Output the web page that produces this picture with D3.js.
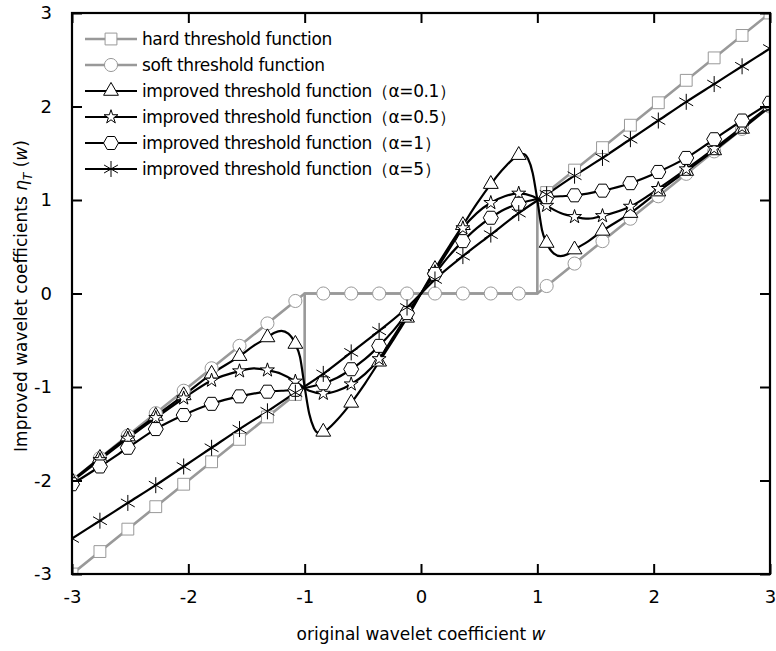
<!DOCTYPE html>
<html>
<head>
<meta charset="utf-8">
<script src="https://cdn.jsdelivr.net/npm/d3@7"></script>
<style>
  html, body { margin: 0; padding: 0; background: #fff; }
  svg { display: block; }
  text { font-family: "DejaVu Sans", sans-serif; fill: #000; }
  .leg text { font-size: 17px; letter-spacing: -0.4px; }
</style>
</head>
<body>
<svg id="chart" width="776" height="651"></svg>
<script>
// ---- data ----
var xTicks = [-3, -2, -1, 0, 1, 2, 3];
var yTicks = [-3, -2, -1, 0, 1, 2, 3];
// w positions that carry a marker
var markW = [-3, -2.76, -2.52, -2.28, -2.04, -1.8, -1.56, -1.32, -1.08, -0.84, -0.6, -0.36, -0.12,
             0.12, 0.36, 0.6, 0.84, 1.08, 1.32, 1.56, 1.8, 2.04, 2.28, 2.52, 2.76, 3];

var hardLine = [[-3, -3], [-1, -1], [-1, 0], [1, 0], [1, 1], [3, 3]];
var hardMarks = [-3, -2.76, -2.52, -2.28, -2.04, -1.8, -1.56, -1.32, -1.08, null, null, null, null,
                 null, null, null, null, 1.08, 1.32, 1.56, 1.8, 2.04, 2.28, 2.52, 2.76, 3];
var softLine = [[-3, -2], [-1, 0], [1, 0], [3, 2]];
var softMarks = [-2, -1.76, -1.52, -1.28, -1.04, -0.8, -0.56, -0.32, -0.08, 0, 0, 0, 0,
                 0, 0, 0, 0, 0.08, 0.32, 0.56, 0.8, 1.04, 1.28, 1.52, 1.76, 2];

var a01 = [[-3, -2.0], [-2.76, -1.76], [-2.52, -1.53], [-2.28, -1.31], [-2.04, -1.09], [-1.8, -0.86],
  [-1.56, -0.67], [-1.44, -0.56], [-1.32, -0.47], [-1.26, -0.42], [-1.2, -0.4], [-1.14, -0.43],
  [-1.08, -0.54], [-1.04, -0.68], [-1.0, -1.0], [-0.96, -1.29], [-0.92, -1.44], [-0.88, -1.49],
  [-0.84, -1.48], [-0.72, -1.35], [-0.6, -1.17], [-0.48, -0.96], [-0.36, -0.73], [-0.24, -0.5],
  [-0.12, -0.26], [0, 0], [0.12, 0.26], [0.24, 0.5], [0.36, 0.73], [0.48, 0.96], [0.6, 1.17],
  [0.72, 1.35], [0.84, 1.48], [0.88, 1.49], [0.92, 1.44], [0.96, 1.29], [1.0, 1.0], [1.04, 0.68],
  [1.08, 0.54], [1.14, 0.43], [1.2, 0.4], [1.26, 0.42], [1.32, 0.47], [1.44, 0.56], [1.56, 0.67],
  [1.8, 0.86], [2.04, 1.09], [2.28, 1.31], [2.52, 1.53], [2.76, 1.76], [3, 2.0]];
var a05 = [[-3, -2.01], [-2.76, -1.78], [-2.52, -1.55], [-2.28, -1.33], [-2.04, -1.12], [-1.8, -0.93],
  [-1.56, -0.83], [-1.44, -0.8], [-1.32, -0.82], [-1.2, -0.86], [-1.08, -0.94], [-0.96, -1.04],
  [-0.84, -1.07], [-0.72, -1.04], [-0.6, -0.97], [-0.48, -0.86], [-0.36, -0.7], [-0.24, -0.47],
  [-0.12, -0.23], [0, 0], [0.12, 0.23], [0.24, 0.47], [0.36, 0.7], [0.48, 0.86], [0.6, 0.97],
  [0.72, 1.04], [0.84, 1.07], [0.96, 1.04], [1.08, 0.94], [1.2, 0.86], [1.32, 0.82], [1.44, 0.8],
  [1.56, 0.83], [1.8, 0.93], [2.04, 1.12], [2.28, 1.33], [2.52, 1.55], [2.76, 1.78], [3, 2.01]];
var a1 = [[-3, -2.04], [-2.76, -1.85], [-2.52, -1.65], [-2.28, -1.45], [-2.04, -1.3], [-1.8, -1.18],
  [-1.56, -1.1], [-1.32, -1.05], [-1.2, -1.04], [-1.08, -1.03], [-0.96, -1.0], [-0.84, -0.96],
  [-0.72, -0.9], [-0.6, -0.81], [-0.48, -0.7], [-0.36, -0.56], [-0.24, -0.4], [-0.12, -0.21],
  [0, 0], [0.12, 0.21], [0.24, 0.4], [0.36, 0.56], [0.48, 0.7], [0.6, 0.81], [0.72, 0.9],
  [0.84, 0.96], [0.96, 1.0], [1.08, 1.03], [1.2, 1.04], [1.32, 1.05], [1.56, 1.1], [1.8, 1.18],
  [2.04, 1.3], [2.28, 1.45], [2.52, 1.65], [2.76, 1.85], [3, 2.04]];
var a5 = [[-3, -2.62], [-2.76, -2.43], [-2.52, -2.24], [-2.28, -2.05], [-2.04, -1.85], [-1.8, -1.65],
  [-1.56, -1.45], [-1.32, -1.26], [-1.08, -1.06], [-0.84, -0.86], [-0.6, -0.63], [-0.36, -0.4],
  [-0.12, -0.15], [0, 0], [0.12, 0.15], [0.36, 0.4], [0.6, 0.63], [0.84, 0.86], [1.08, 1.06],
  [1.32, 1.26], [1.56, 1.45], [1.8, 1.65], [2.04, 1.85], [2.28, 2.05], [2.52, 2.24], [2.76, 2.43],
  [3, 2.62]];

var labels = ["hard threshold function", "soft threshold function",
  "improved threshold function（α=0.1）", "improved threshold function（α=0.5）",
  "improved threshold function（α=1）", "improved threshold function（α=5）"];

// ---- layout ----
var svg = d3.select("#chart");
var L = 72, R = 770, T = 13, B = 574;
var x = d3.scaleLinear().domain([-3, 3]).range([L, R]);
var y = d3.scaleLinear().domain([-3, 3]).range([B, T]);
var GRAY = "#999";

svg.append("defs").append("clipPath").attr("id", "plot")
  .append("rect").attr("x", L).attr("y", T).attr("width", R - L).attr("height", B - T);

// marker shapes
function hexPath(r) {
  var p = [];
  for (var i = 0; i < 6; i++) { var a = Math.PI / 3 * i; p.push([r * Math.cos(a), r * Math.sin(a)]); }
  return "M" + p.map(function (q) { return q[0].toFixed(2) + "," + q[1].toFixed(2); }).join("L") + "Z";
}
var shapes = {
  square: d3.symbol(d3.symbolSquare, 140)(),
  circle: d3.symbol(d3.symbolCircle, 135)(),
  triangle: d3.symbol(d3.symbolTriangle, 95)(),
  star: d3.symbol(d3.symbolStar, 60)(),
  hex: hexPath(7.5),
  aster: d3.symbol(d3.symbolAsterisk, 180)()
};

function isMark(w) { return markW.some(function (m) { return Math.abs(m - w) < 1e-6; }); }
function pairs(vals) { return markW.map(function (w, i) { return [w, vals[i]]; }).filter(function (p) { return p[1] !== null; }); }

var series = [
  { line: hardLine, marks: pairs(hardMarks), color: GRAY, width: 2.6, shape: "square", curve: d3.curveLinear },
  { line: softLine, marks: pairs(softMarks), color: GRAY, width: 2.6, shape: "circle", curve: d3.curveLinear },
  { line: a01, marks: a01.filter(function (p) { return isMark(p[0]); }), color: "#000", width: 2.2, shape: "triangle", curve: d3.curveMonotoneX },
  { line: a05, marks: a05.filter(function (p) { return isMark(p[0]); }), color: "#000", width: 2.2, shape: "star", curve: d3.curveMonotoneX },
  { line: a1, marks: a1.filter(function (p) { return isMark(p[0]); }), color: "#000", width: 2.2, shape: "hex", curve: d3.curveMonotoneX },
  { line: a5, marks: a5.filter(function (p) { return isMark(p[0]); }), color: "#000", width: 2.2, shape: "aster", curve: d3.curveMonotoneX }
];

var plot = svg.append("g").attr("clip-path", "url(#plot)");
series.forEach(function (s) {
  var line = d3.line().x(function (d) { return x(d[0]); }).y(function (d) { return y(d[1]); }).curve(s.curve);
  plot.append("path").datum(s.line).attr("d", line).attr("fill", "none")
    .attr("stroke", s.color).attr("stroke-width", s.width).attr("stroke-linejoin", "round");
});
series.forEach(function (s) {
  plot.append("g").selectAll("path").data(s.marks).join("path")
    .attr("d", shapes[s.shape])
    .attr("transform", function (d) { return "translate(" + x(d[0]) + "," + y(d[1]) + ")"; })
    .attr("fill", s.shape === "aster" ? "none" : "#fff")
    .attr("stroke", s.color).attr("stroke-width", 1);
});

// ---- axes (ticks inward on all four sides) ----
function fmt(d) { return String(d); } // plain hyphen-minus, as in the original
function styleAxis(g) { g.select(".domain").remove(); g.selectAll(".tick line").attr("stroke", "#000").attr("stroke-width", 2); }
svg.append("g").attr("transform", "translate(0," + B + ")")
  .call(d3.axisBottom(x).tickValues(xTicks).tickSize(-10).tickPadding(16).tickFormat(fmt))
  .call(styleAxis);
svg.append("g").attr("transform", "translate(" + L + ",0)")
  .call(d3.axisLeft(y).tickValues(yTicks).tickSize(-10).tickPadding(20).tickFormat(fmt))
  .call(styleAxis);
svg.append("g").attr("transform", "translate(0," + T + ")")
  .call(d3.axisTop(x).tickValues(xTicks).tickSize(-10).tickFormat(""))
  .call(styleAxis);
svg.append("g").attr("transform", "translate(" + R + ",0)")
  .call(d3.axisRight(y).tickValues(yTicks).tickSize(-10).tickFormat(""))
  .call(styleAxis);
svg.selectAll(".tick text").attr("fill", "#000").style("font-size", "18px").style("font-family", "DejaVu Sans");
svg.append("rect").attr("x", L).attr("y", T).attr("width", R - L).attr("height", B - T)
  .attr("fill", "none").attr("stroke", "#000").attr("stroke-width", 2.2);

// ---- axis titles ----
var xt = svg.append("text").attr("x", (L + R) / 2).attr("y", 640).attr("text-anchor", "middle").style("font-size", "17px");
xt.append("tspan").text("original wavelet coefficient ");
xt.append("tspan").attr("font-style", "italic").text("w");
var yt = svg.append("text").attr("transform", "translate(27,296) rotate(-90)").attr("text-anchor", "middle").style("font-size", "17px");
yt.append("tspan").text("Improved wavelet coefficients ");
yt.append("tspan").attr("font-style", "italic").text("η");
yt.append("tspan").attr("font-style", "italic").attr("font-size", "12px").attr("dy", 5).text("T");
yt.append("tspan").attr("dy", -5).text(" (");
yt.append("tspan").attr("font-style", "italic").text("w");
yt.append("tspan").text(")");

// ---- legend ----
var leg = svg.append("g").attr("class", "leg");
series.forEach(function (s, i) {
  var g = leg.append("g").attr("transform", "translate(0," + (39 + i * 26) + ")");
  g.append("line").attr("x1", 85).attr("x2", 137).attr("stroke", s.color).attr("stroke-width", s.width);
  g.append("path").attr("d", shapes[s.shape]).attr("transform", "translate(111,0)")
    .attr("fill", s.shape === "aster" ? "none" : "#fff").attr("stroke", s.color).attr("stroke-width", 1);
  g.append("text").attr("x", 142).attr("dy", "0.35em").text(labels[i]);
});
</script>
</body>
</html>
